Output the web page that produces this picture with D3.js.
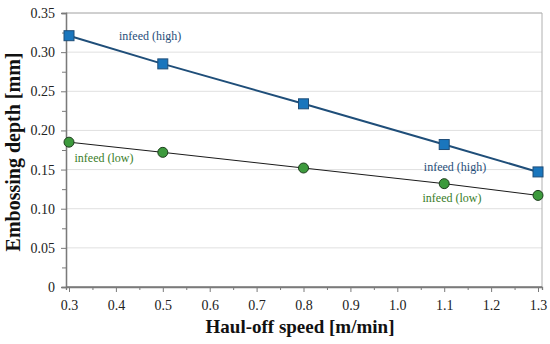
<!DOCTYPE html>
<html><head><meta charset="utf-8">
<script src="https://cdn.jsdelivr.net/npm/d3@7"></script>
<style>body{margin:0;background:#fff}svg{display:block}</style>
</head><body>
<script>
const speeds = [0.3, 0.5, 0.8, 1.1, 1.3];
const infeedHigh = [0.321, 0.285, 0.234, 0.182, 0.147];
const infeedLow = [0.185, 0.172, 0.152, 0.132, 0.117];
const xTicks = [0.3,0.4,0.5,0.6,0.7,0.8,0.9,1.0,1.1,1.2,1.3];
const yTicks = [0,0.05,0.10,0.15,0.20,0.25,0.30,0.35];
const labels = [
  {text:"infeed (high)", x:0.473, y:0.3206, c:"#1f4e79"},
  {text:"infeed (high)", x:1.123, y:0.1537, c:"#1f4e79"},
  {text:"infeed (low)", x:0.3746, y:0.1648, c:"#3a7d2a"},
  {text:"infeed (low)", x:1.1166, y:0.1141, c:"#3a7d2a"}
];
const W=550,H=344, L=66, R=542, T=13, B=287;
const svg=d3.select("body").append("svg").attr("width",W).attr("height",H);
const x=d3.scaleLinear().domain([0.2936,1.3085]).range([L,R]);
const y=d3.scaleLinear().domain([0,0.35]).range([B,T]);
const font="'Liberation Serif', serif";
// grid
svg.append("g").selectAll("line").data(yTicks.slice(1)).join("line")
  .attr("x1",L).attr("x2",R).attr("y1",d=>y(d)).attr("y2",d=>y(d))
  .attr("stroke","#e0e0e0").attr("stroke-width",1);
// frame top/right
svg.append("path").attr("d",`M${L},${T}H${R}V${B}`).attr("fill","none").attr("stroke","#b0b0b0").attr("stroke-width",1);
// y axis
const ya=svg.append("g").attr("transform",`translate(${L},0)`)
  .call(d3.axisLeft(y).tickValues(yTicks).tickSize(5).tickPadding(6).tickFormat(d=>d===0?"0":d3.format(".2f")(d)));
const yminor=svg.append("g").attr("transform",`translate(${L},0)`)
  .call(d3.axisLeft(y).tickValues(d3.range(0.025,0.35,0.05)).tickSize(4).tickFormat(""));
// x axis
const xa=svg.append("g").attr("transform",`translate(0,${B})`)
  .call(d3.axisBottom(x).tickValues(xTicks).tickSize(5).tickPadding(8).tickFormat(d3.format(".1f")));
const xminor=svg.append("g").attr("transform",`translate(0,${B})`)
  .call(d3.axisBottom(x).tickValues(d3.range(0.35,1.3,0.1)).tickSize(3).tickFormat(""));
[ya,yminor,xa,xminor].forEach(g=>{
  g.select(".domain").attr("stroke","#7a7a7a").attr("stroke-width",1.3);
  g.selectAll(".tick line").attr("stroke","#7a7a7a");
  g.selectAll("text").attr("font-family",font).attr("font-size",14).attr("fill","#222");
});
xa.selectAll(".domain").attr("d",`M${L},0H${R}`);
// lines
const line=(vals)=>d3.line().x((d,i)=>x(speeds[i])).y(d=>y(d))(vals);
svg.append("path").attr("d",line(infeedLow)).attr("fill","none").attr("stroke","#1a1a1a").attr("stroke-width",1);
svg.append("path").attr("d",line(infeedHigh)).attr("fill","none").attr("stroke","#1f4e79").attr("stroke-width",2);
svg.append("g").selectAll("circle").data(infeedLow).join("circle")
  .attr("cx",(d,i)=>x(speeds[i])).attr("cy",d=>y(d)).attr("r",5)
  .attr("fill","#3d9a3d").attr("stroke","#1d3d1d").attr("stroke-width",1);
svg.append("g").selectAll("rect").data(infeedHigh).join("rect")
  .attr("x",(d,i)=>x(speeds[i])-5).attr("y",d=>y(d)-5).attr("width",10).attr("height",10)
  .attr("fill","#1a76bd").attr("stroke","#1f4e79").attr("stroke-width",1);
// labels
svg.append("g").selectAll("text").data(labels).join("text")
  .attr("x",d=>x(d.x)).attr("y",d=>y(d.y)).attr("text-anchor","middle").attr("dominant-baseline","central")
  .attr("font-family",font).attr("font-size",12).attr("fill",d=>d.c).text(d=>d.text);
// titles
svg.append("text").attr("x",300).attr("y",333).attr("text-anchor","middle")
  .attr("font-family",font).attr("font-weight","bold").attr("font-size",19).attr("fill","#111").text("Haul-off speed [m/min]");
svg.append("text").attr("transform",`translate(20,152) rotate(-90)`).attr("text-anchor","middle")
  .attr("font-family",font).attr("font-weight","bold").attr("font-size",20).attr("fill","#111").text("Embossing depth [mm]");
</script>
</body></html>
